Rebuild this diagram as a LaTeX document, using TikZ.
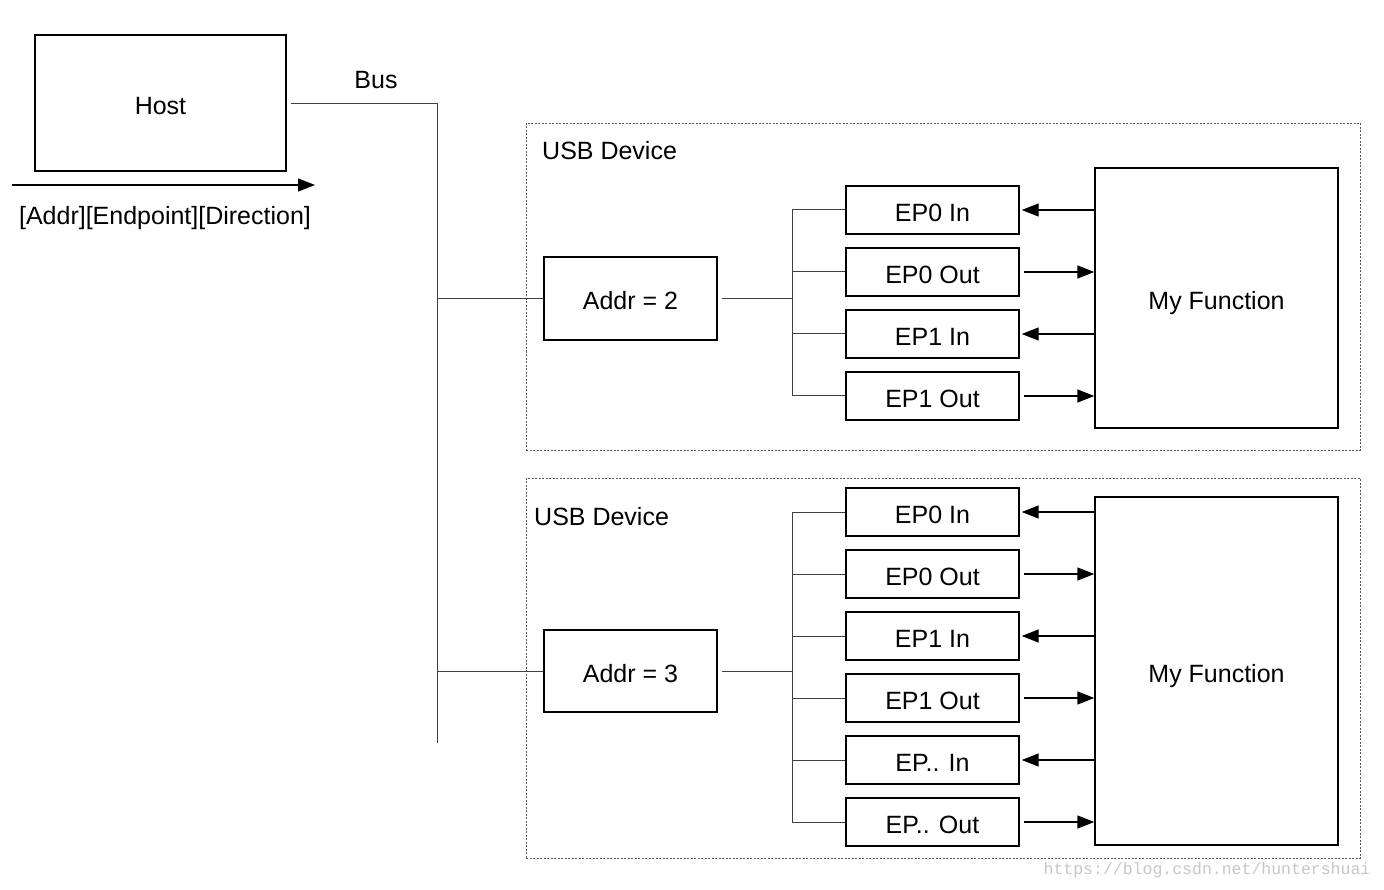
\documentclass[tikz,border=0pt]{standalone}
\usepackage{fontspec}
\setmainfont{Liberation Sans}
\newfontfamily\wmfont{Liberation Mono}
\usetikzlibrary{arrows.meta}
\begin{document}
\begin{tikzpicture}[x=1pt,y=-1pt,
  txt/.style={font=\fontsize{25}{29}\selectfont, inner sep=0pt},
  box/.style={draw, line width=1.4pt, inner sep=0pt, text height=23pt, text depth=0pt, font=\fontsize{25}{29}\selectfont},
  epbox/.style={box, minimum width=173pt, minimum height=48pt},
  addrbox/.style={box, minimum width=173pt, minimum height=83pt},
  fbox/.style={box, minimum width=243pt},
  devbox/.style={draw=black!65, line width=0.8pt, dash pattern=on 2pt off 1.5pt, inner sep=0pt},
  bus/.style={draw=black!75, line width=1pt},
  arr/.style={draw, line width=1.4pt, -{Triangle[length=17pt,width=13pt]}}
]
\useasboundingbox (0,0) rectangle (1384,890);

% Host
\node[box, minimum width=251pt, minimum height=136pt] (host) at (160.5,103) {Host};
\coordinate (a0) at (12,185);
\coordinate (a1) at (315,185);
\draw[arr] (a0) -- (a1);
\node[txt] (lbl) at (165,218.5) {[Addr][Endpoint][Direction]};
\node[txt] (buslbl) at (376,80) {Bus};

% Bus
\coordinate (bt) at (437,104);
\coordinate (bb) at (437,743);
\draw[bus] ([xshift=4pt]host.east |- bt) -- (bt) -- (bb);

% Device 1
\node[devbox, minimum width=834pt, minimum height=327pt] (dev1) at (943,286.5) {};
\node[txt, anchor=west] (dev1lbl) at (542,151) {USB Device};
\node[addrbox] (addr2) at (630.5,298.5) {Addr = 2};
\node[epbox] (a2e0i) at (932.5,210) {EP0 In};
\node[epbox] (a2e0o) at (932.5,272) {EP0 Out};
\node[epbox] (a2e1i) at (932.5,334) {EP1 In};
\node[epbox] (a2e1o) at (932.5,396) {EP1 Out};
\node[fbox, minimum height=260pt] (mf1) at (1216.5,298) {My Function};
\coordinate (v1) at (792,298.5);

\draw[bus] (bt |- addr2.west) -- (addr2.west);
\draw[bus] ([xshift=4pt]addr2.east) -- (v1);
\draw[bus] (a2e0i.west -| v1) -- (a2e1o.west -| v1);
\foreach \n in {a2e0i,a2e0o,a2e1i,a2e1o}{
  \draw[bus] (\n.west -| v1) -- (\n.west);
}
\draw[arr] (mf1.west |- a2e0i.east) -- ([xshift=2pt]a2e0i.east);
\draw[arr] ([xshift=4pt]a2e0o.east) -- (mf1.west |- a2e0o.east);
\draw[arr] (mf1.west |- a2e1i.east) -- ([xshift=2pt]a2e1i.east);
\draw[arr] ([xshift=4pt]a2e1o.east) -- (mf1.west |- a2e1o.east);

% Device 2
\node[devbox, minimum width=834pt, minimum height=380pt] (dev2) at (943,668) {};
\node[txt, anchor=west] (dev2lbl) at (534,517) {USB Device};
\node[addrbox, minimum height=82pt] (addr3) at (630.5,671) {Addr = 3};
\node[epbox] (a3e0i) at (932.5,512) {EP0 In};
\node[epbox] (a3e0o) at (932.5,574) {EP0 Out};
\node[epbox] (a3e1i) at (932.5,636) {EP1 In};
\node[epbox] (a3e1o) at (932.5,698) {EP1 Out};
\node[epbox] (a3exi) at (932.5,760) {EP.. In};
\node[epbox] (a3exo) at (932.5,822) {EP.. Out};
\node[fbox, minimum height=348pt] (mf2) at (1216.5,671) {My Function};
\coordinate (v2) at (792,671);

\draw[bus] (bt |- addr3.west) -- (addr3.west);
\draw[bus] ([xshift=4pt]addr3.east) -- (v2);
\draw[bus] (a3e0i.west -| v2) -- (a3exo.west -| v2);
\foreach \n in {a3e0i,a3e0o,a3e1i,a3e1o,a3exi,a3exo}{
  \draw[bus] (\n.west -| v2) -- (\n.west);
}
\foreach \n in {a3e0i,a3e1i,a3exi}{
  \draw[arr] (mf2.west |- \n.east) -- ([xshift=2pt]\n.east);
}
\foreach \n in {a3e0o,a3e1o,a3exo}{
  \draw[arr] ([xshift=4pt]\n.east) -- (mf2.west |- \n.east);
}

% watermark
\node[font=\wmfont\fontsize{16.5}{18}\selectfont, text=black!22, inner sep=0pt] (wm) at (1207,870) {https://blog.csdn.net/huntershuai};
\end{tikzpicture}
\end{document}
